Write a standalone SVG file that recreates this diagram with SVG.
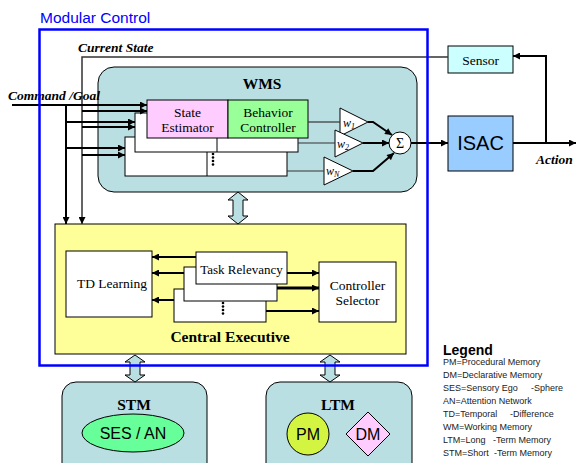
<svg xmlns="http://www.w3.org/2000/svg" width="578" height="463" viewBox="0 0 578 463">
<defs>
<marker id="ah" viewBox="0 0 10 10" refX="10" refY="5" markerWidth="8" markerHeight="7" markerUnits="userSpaceOnUse" orient="auto"><path d="M0,0 L10,5 L0,10 z" fill="#000"/></marker>
<style>
.serif{font-family:"Liberation Serif","Times New Roman",serif;}
.sans{font-family:"Liberation Sans",Arial,sans-serif;}
.box{fill:#fff;stroke:#000;stroke-width:1;}
.mem{fill:#BADFE2;stroke:#000;stroke-width:1;}
.ln{stroke:#000;stroke-width:2;fill:none;}
.thin{stroke:#333;stroke-width:1.2;fill:none;}
.dbl{fill:#BADFE2;stroke:#000;stroke-width:1;}
.lbl{font-size:13.5px;text-anchor:middle;}
.bi{font-weight:bold;font-style:italic;font-size:13.5px;}
.leg{font-size:9px;fill:#222;}
</style>
</defs>
<rect width="578" height="463" fill="#fff"/>

<g id="wms">
<rect x="98" y="67" width="319" height="125" rx="16" class="mem"/>
<text x="262" y="89" class="serif" font-size="15.5" font-weight="bold" text-anchor="middle">WMS</text>
<rect x="125" y="137" width="162" height="39" class="box"/>
<line x1="207" y1="137" x2="207" y2="176" stroke="#000"/>
<rect x="135" y="113" width="163" height="39" class="box"/>
<line x1="217" y1="113" x2="217" y2="152" stroke="#000"/>
<g fill="#000"><circle cx="213" cy="154" r="1.3"/><circle cx="213" cy="157.5" r="1.3"/><circle cx="213" cy="161" r="1.3"/><circle cx="213" cy="164.5" r="1.3"/></g>
</g>
<g id="state-estimator">
<rect x="147" y="100" width="81" height="38" fill="#FFCCFF" stroke="#000"/>
<text x="187.5" y="117" class="serif lbl">State</text>
<text x="187.5" y="132" class="serif lbl">Estimator</text>
</g>
<g id="behavior-controller">
<rect x="228" y="100" width="80" height="38" fill="#99FF99" stroke="#000"/>
<text x="268" y="117" class="serif lbl">Behavior</text>
<text x="268" y="132" class="serif lbl">Controller</text>
</g>
<g id="w1">
<path d="M340,108 L368,122 L340,136 Z" fill="#fff" stroke="#000"/>
<text x="343" y="127" class="serif" font-size="12" font-style="italic">w<tspan font-size="8" dy="2">1</tspan></text>
</g>
<g id="w2">
<path d="M335,130 L363,143 L335,157 Z" fill="#fff" stroke="#000"/>
<text x="337" y="148" class="serif" font-size="12" font-style="italic">w<tspan font-size="8" dy="2">2</tspan></text>
</g>
<g id="wN">
<path d="M324,157 L353,171 L324,185 Z" fill="#fff" stroke="#000"/>
<text x="326" y="175" class="serif" font-size="12" font-style="italic">w<tspan font-size="8" dy="2">N</tspan></text>
</g>
<g id="sum">
<circle cx="400" cy="143" r="11" fill="#fff" stroke="#000"/>
<text x="400" y="148" class="serif" font-size="14" text-anchor="middle">Σ</text>
</g>

<g id="sensor">
<rect x="448" y="46" width="65" height="27" fill="#CCFFFF" stroke="#000"/>
<text x="480.5" y="65" class="serif" font-size="13.5" text-anchor="middle">Sensor</text>
</g>
<g id="isac">
<rect x="448" y="116" width="65" height="55" fill="#99CCFF" stroke="#000"/>
<text x="480.5" y="150" class="sans" font-size="20" text-anchor="middle">ISAC</text>
</g>

<g id="central-executive">
<rect x="55" y="224" width="351" height="130" fill="#FFFF99" stroke="#000"/>
<text x="230" y="342" class="serif" font-size="15.5" font-weight="bold" text-anchor="middle">Central Executive</text>
</g>
<g id="td-learning">
<rect x="66" y="251" width="86" height="66" class="box"/>
<text x="112" y="288" class="serif lbl">TD Learning</text>
</g>
<g id="task-relevancy">
<rect x="174" y="289" width="92" height="33" class="box"/>
<g fill="#000"><circle cx="223" cy="303" r="1.3"/><circle cx="223" cy="306.5" r="1.3"/><circle cx="223" cy="310" r="1.3"/><circle cx="223" cy="313.5" r="1.3"/></g>
<rect x="184" y="267" width="93" height="34" class="box"/>
<rect x="196" y="252" width="91" height="32" class="box"/>
<text x="241.5" y="274" class="serif" font-size="13" text-anchor="middle">Task Relevancy</text>
</g>
<g id="controller-selector">
<rect x="319" y="262" width="77" height="60" class="box"/>
<text x="357.5" y="290" class="serif lbl">Controller</text>
<text x="357.5" y="305" class="serif lbl">Selector</text>
</g>

<g id="stm">
<rect x="62" y="382" width="145" height="100" rx="14" class="mem"/>
<text x="134" y="410" class="serif" font-size="15.5" font-weight="bold" text-anchor="middle">STM</text>
<ellipse cx="133" cy="433" rx="51" ry="19" fill="#66FF99" stroke="#000"/>
<text x="133" y="439" class="sans" font-size="16" text-anchor="middle">SES / AN</text>
</g>
<g id="ltm">
<rect x="266" y="382" width="146" height="100" rx="14" class="mem"/>
<text x="338" y="410" class="serif" font-size="15.5" font-weight="bold" text-anchor="middle">LTM</text>
<circle cx="308" cy="434" r="21" fill="#D4F442" stroke="#000"/>
<text x="308" y="440" class="sans" font-size="16" text-anchor="middle">PM</text>
<path d="M368,412 L390,434 L368,456 L346,434 Z" fill="#FFCCFF" stroke="#000"/>
<text x="368" y="440" class="sans" font-size="16" text-anchor="middle">DM</text>
</g>

<g id="connectors">
<polyline points="448,57 82,57 82,224" class="thin" style="stroke-width:1.5" marker-end="url(#ah)"/>
<line x1="12" y1="105" x2="147" y2="105" class="ln" marker-end="url(#ah)"/>
<line x1="66" y1="105" x2="66" y2="224" class="ln" marker-end="url(#ah)"/>
<line x1="82" y1="111" x2="147" y2="111" class="ln" marker-end="url(#ah)"/>
<line x1="66" y1="122" x2="135" y2="122" class="ln" marker-end="url(#ah)"/>
<line x1="82" y1="127" x2="135" y2="127" class="ln" marker-end="url(#ah)"/>
<line x1="66" y1="148" x2="125" y2="148" class="ln" marker-end="url(#ah)"/>
<line x1="82" y1="155" x2="125" y2="155" class="ln" marker-end="url(#ah)"/>
<line x1="308" y1="122" x2="340" y2="122" class="thin"/>
<line x1="298" y1="143" x2="335" y2="143" class="thin"/>
<line x1="287" y1="171" x2="324" y2="171" class="thin"/>
<polyline points="368,122 373,122 392,135" class="ln" marker-end="url(#ah)"/>
<line x1="363" y1="143" x2="389" y2="143" class="ln" marker-end="url(#ah)"/>
<polyline points="353,171 373,171 394,153" class="ln" marker-end="url(#ah)"/>
<line x1="411" y1="143" x2="448" y2="143" class="ln" marker-end="url(#ah)"/>
<line x1="513" y1="143" x2="576" y2="143" class="ln" marker-end="url(#ah)"/>
<polyline points="546,143 546,56 513,56" class="ln" marker-end="url(#ah)"/>
<line x1="196" y1="257" x2="152" y2="257" class="ln" marker-end="url(#ah)"/>
<line x1="184" y1="273" x2="152" y2="273" class="ln" marker-end="url(#ah)"/>
<line x1="174" y1="300" x2="152" y2="300" class="ln" marker-end="url(#ah)"/>
<line x1="287" y1="273" x2="319" y2="273" class="ln" marker-end="url(#ah)"/>
<line x1="277" y1="288" x2="319" y2="288" class="ln" style="stroke-width:3" marker-end="url(#ah)"/>
<line x1="266" y1="311" x2="319" y2="311" class="ln" marker-end="url(#ah)"/>
<path d="M238,192 L248,200 L243,200 L243,216 L248,216 L238,224 L228,216 L233,216 L233,200 L228,200 Z" class="dbl"/>
<path d="M135,355 L145,362 L140,362 L140,375 L145,375 L135,382 L125,375 L130,375 L130,362 L125,362 Z" class="dbl"/>
<path d="M330,355 L340,362 L335,362 L335,375 L340,375 L330,382 L320,375 L325,375 L325,362 L320,362 Z" class="dbl"/>
</g>

<g id="labels">
<text x="78" y="52" class="serif bi" font-size="13">Current State</text>
<text x="8" y="100" class="serif bi">Command /Goal</text>
<text x="536" y="164" class="serif bi">Action</text>
</g>

<g id="modular-control">
<rect x="39.5" y="29.5" width="388" height="336" fill="none" stroke="#0000FF" stroke-width="2.5"/>
<text x="40" y="23" class="sans" font-size="15.5" fill="#0000FF">Modular Control</text>
</g>

<g id="legend">
<text x="443" y="355" class="sans" font-size="14" font-weight="bold">Legend</text>
<text x="443" y="365" class="sans leg">PM=Procedural Memory</text>
<text x="443" y="378" class="sans leg">DM=Declarative Memory</text>
<text x="443" y="391" class="sans leg">SES=Sensory Ego</text>
<text x="531" y="391" class="sans leg">-Sphere</text>
<text x="443" y="404" class="sans leg">AN=Attention Network</text>
<text x="443" y="417" class="sans leg">TD=Temporal</text>
<text x="510" y="417" class="sans leg">-Difference</text>
<text x="443" y="430" class="sans leg">WM=Working Memory</text>
<text x="443" y="443" class="sans leg">LTM=Long</text>
<text x="493" y="443" class="sans leg">-Term Memory</text>
<text x="443" y="456" class="sans leg">STM=Short</text>
<text x="494" y="456" class="sans leg">-Term Memory</text>
</g>
</svg>
